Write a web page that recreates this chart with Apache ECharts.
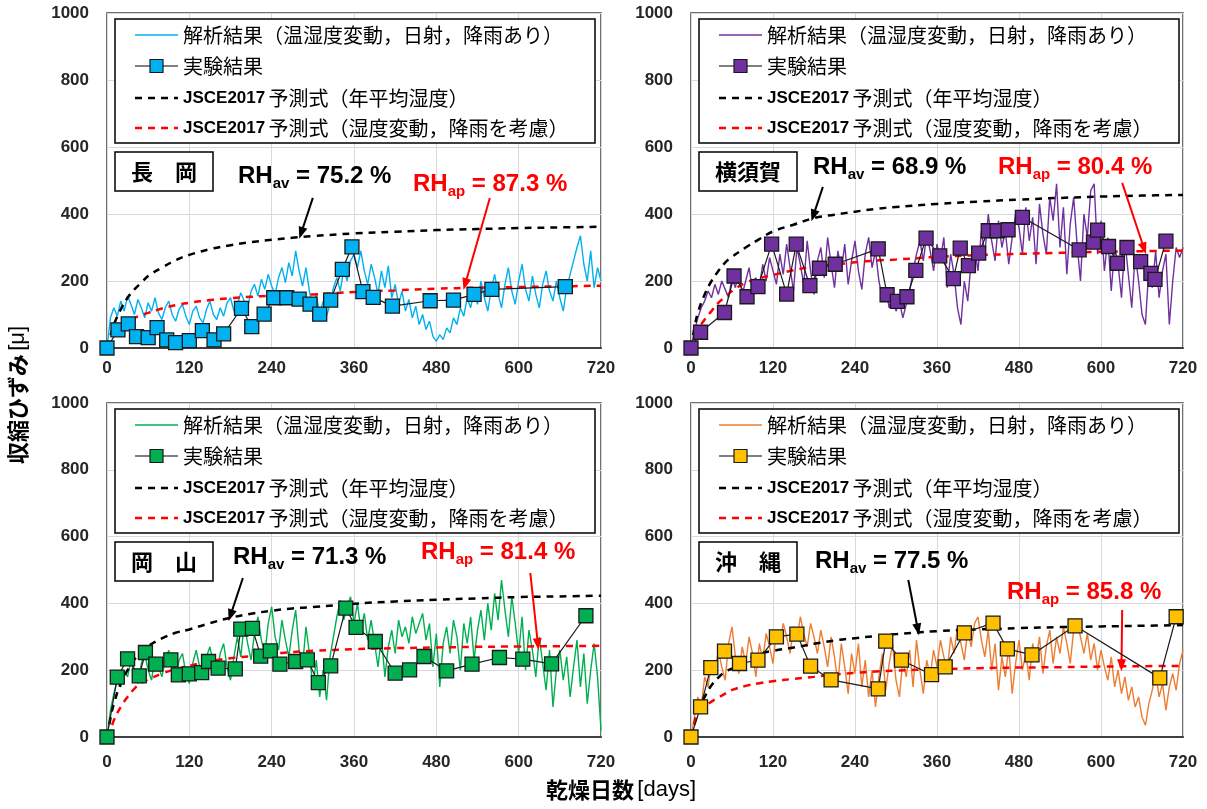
<!DOCTYPE html>
<html>
<head>
<meta charset="utf-8">
<script src="https://cdn.jsdelivr.net/npm/echarts@6/dist/echarts.min.js"></script>
<style>
  html, body { margin: 0; padding: 0; background: #fff; }
  #chart { width: 1207px; height: 809px; }
</style>
</head>
<body>
<div id="chart"></div>
<script>
// ---- Axis ticks ----
const xTicks = [0, 120, 240, 360, 480, 600, 720];
const yTicks = [0, 200, 400, 600, 800, 1000];

// ---- Analysis output (one value every 5 drying days, 0..720) ----
const ANALYSIS_STEP = 5;
const analysisNagaoka = [
  0, 90, 120, 95, 140, 110, 155, 130, 100, 145,
  120, 90, 135, 110, 150, 105, 85, 120, 140, 100,
  80, 115, 130, 95, 70, 110, 125, 90, 75, 115,
  140, 100, 85, 120, 95, 135, 150, 110, 130, 165,
  140, 120, 170, 190, 155, 205, 175, 220, 185, 160,
  210, 240, 195, 255, 215, 290, 230, 185, 240, 170,
  120, 160, 100, 140, 95, 130, 180, 210, 170, 235,
  200, 260, 280, 240, 290, 230, 190, 250, 210, 160,
  230, 180, 245, 150, 190, 130, 170, 110, 145, 90,
  125, 70, 100, 55, 80, 35, 20, 40, 25, 60,
  45, 90, 70, 120, 95, 150, 120, 170, 130, 200,
  150, 110, 175, 220, 160, 120, 190, 240, 170, 130,
  200, 250, 175, 140, 215, 160, 120, 190, 230, 170,
  140, 200, 150, 110, 180, 220, 260, 300, 335, 250,
  200, 290, 180, 240, 200
];
const analysisYokosuka = [
  0, 50, 90, 120, 140, 170, 150, 190, 160, 200,
  175, 150, 210, 180, 230, 160, 200, 240, 170, 210,
  185, 250, 200, 270, 230, 190, 280, 220, 310, 240,
  170, 300, 250, 190, 320, 230, 160, 260, 300, 210,
  330, 250, 180, 290, 230, 310, 190, 260, 320, 230,
  175, 280, 330, 240, 290, 200, 150, 180, 120, 160,
  110, 140, 90, 130, 170, 230, 280, 320, 260, 340,
  290, 230, 310, 260, 330, 180, 280, 220, 120, 70,
  200, 140, 260, 300, 230, 350, 280, 400, 320, 260,
  380, 300, 350, 250, 330, 400, 360, 280, 420, 320,
  390, 250, 430, 340, 280, 450, 380, 490, 300, 420,
  220, 370, 450, 310, 200, 400, 330, 470, 490, 280,
  380, 230, 330, 170, 300, 250, 150, 320, 220, 120,
  280, 200, 100, 70, 240, 180, 290, 150, 230, 280,
  70, 200, 300, 270, 300
];
const analysisOkayama = [
  0, 80, 130, 170, 150, 200, 180, 230, 190, 160,
  220, 250, 200, 170, 240, 210, 180, 230, 260, 200,
  170, 230, 250, 190, 160, 220, 260, 210, 180, 240,
  270, 220, 190, 250, 280, 210, 170, 240, 300, 240,
  340, 280, 230, 310, 360, 290, 250, 340, 390, 300,
  260, 350, 290, 240, 320, 380, 260, 210, 330, 250,
  150, 230, 120, 200, 110, 240, 300, 360, 410, 350,
  390, 420, 340, 400, 320, 370, 290, 350, 280, 210,
  300, 180, 270, 320, 250, 350, 300, 330, 280, 360,
  310, 340, 370, 290, 340, 210, 310, 150, 280, 330,
  250, 350, 300, 200, 340, 280, 360, 230, 320, 380,
  290, 400, 320, 430, 350, 470, 380, 300, 420, 340,
  250, 360, 200, 320, 260, 180, 300, 220, 140, 260,
  90, 200, 260, 170, 240, 120, 210, 290, 150, 250,
  100, 200, 280, 180, 20
];
const analysisOkinawa = [
  0, 60, 120, 90, 180, 150, 230, 190, 260, 210,
  170, 280, 330, 240, 190, 270, 220, 300, 250, 180,
  280, 230, 310, 270, 220, 320, 280, 340, 300, 250,
  330, 290, 360, 310, 270, 340, 300, 250, 320, 270,
  210, 300, 240, 160, 280, 210, 130, 250, 190, 280,
  150, 230, 120, 200, 90, 180, 250, 140, 220, 280,
  170, 120, 230, 180, 260, 150, 290, 200, 130, 230,
  180, 260, 210, 290, 240, 200, 300, 250, 330, 280,
  230, 320, 270, 340, 360, 290, 240, 320, 200, 280,
  140, 240, 180, 270, 130, 220, 290, 200, 250, 170,
  280, 230, 300, 190, 270, 320, 220, 300, 250, 330,
  280, 220, 320, 350, 300, 250, 310, 230, 280, 200,
  260, 210, 170, 240, 150, 200, 130, 180, 110, 150,
  90, 120, 60, 35, 100, 140, 190, 120, 160, 80,
  150, 190, 140, 220, 260
];

// ---- Measured shrinkage ----
const expDaysNagaoka = [0, 16, 31, 43, 60, 73, 87, 100, 120, 139, 156, 170, 196, 211, 229, 243, 262, 280, 296, 310, 326, 343, 357, 373, 388, 416, 471, 505, 535, 561, 668];
const expNagaoka     = [0, 54, 72, 34, 31, 61, 24, 16, 22, 52, 24, 42, 118, 64, 101, 150, 150, 146, 131, 101, 143, 235, 302, 168, 151, 125, 141, 143, 160, 175, 183];
const expDaysYokosuka = [0, 14, 49, 63, 82, 98, 118, 140, 154, 174, 188, 211, 274, 287, 302, 316, 329, 344, 364, 384, 394, 406, 421, 435, 448, 464, 485, 568, 589, 595, 611, 624, 638, 658, 673, 679, 695];
const expYokosuka     = [0, 47, 106, 215, 153, 183, 310, 161, 310, 186, 238, 250, 296, 159, 139, 153, 232, 328, 275, 207, 298, 246, 283, 350, 350, 353, 390, 293, 316, 352, 303, 253, 300, 258, 223, 205, 319];
const expDaysOkayama = [0, 15, 30, 47, 56, 71, 93, 104, 120, 138, 148, 162, 187, 195, 212, 224, 238, 252, 275, 292, 308, 326, 348, 363, 391, 420, 441, 462, 495, 532, 572, 606, 648, 698];
const expOkayama     = [0, 179, 234, 183, 253, 218, 231, 186, 189, 193, 226, 206, 204, 323, 325, 242, 258, 218, 226, 231, 163, 213, 386, 328, 286, 191, 201, 241, 198, 218, 238, 233, 219, 363];
const expDaysOkinawa = [0, 14, 29, 49, 71, 98, 125, 155, 175, 205, 274, 285, 308, 352, 372, 400, 442, 463, 499, 562, 686, 710];
const expOkinawa     = [0, 90, 208, 257, 220, 230, 300, 308, 212, 171, 144, 287, 230, 187, 210, 312, 341, 264, 246, 333, 177, 360];

// ---- JSCE2017 prediction curves ----
const jsceDays = [0, 5, 10, 20, 30, 40, 50, 60, 80, 100, 120, 150, 180, 210, 240, 270, 300, 360, 420, 480, 540, 600, 660, 720];
const jsceAvgNagaoka  = [0, 35, 70, 115, 150, 175, 195, 215, 240, 262, 278, 295, 307, 316, 323, 329, 334, 342, 347, 352, 355, 358, 360, 362];
const jsceVarNagaoka  = [0, 25, 40, 65, 80, 90, 98, 105, 118, 128, 135, 143, 149, 153, 156, 158, 160, 167, 172, 177, 180, 182, 184, 186];
const jsceAvgYokosuka = [0, 60, 105, 160, 200, 230, 255, 272, 300, 325, 348, 368, 388, 398, 407, 415, 421, 430, 437, 443, 448, 452, 455, 457];
const jsceVarYokosuka = [0, 30, 55, 85, 110, 135, 152, 170, 195, 208, 218, 232, 243, 249, 256, 261, 264, 272, 277, 281, 284, 287, 289, 291];
const jsceAvgOkayama  = [0, 55, 100, 160, 200, 232, 255, 272, 295, 312, 322, 341, 357, 369, 378, 385, 389, 399, 406, 411, 415, 419, 421, 423];
const jsceVarOkayama  = [0, 20, 50, 90, 120, 145, 162, 172, 190, 203, 213, 227, 236, 242, 249, 254, 258, 263, 266, 268, 270, 271, 272, 273];
const jsceAvgOkinawa  = [0, 40, 75, 120, 155, 178, 195, 205, 228, 248, 258, 268, 279, 289, 296, 302, 308, 317, 322, 326, 329, 331, 333, 335];
const jsceVarOkinawa  = [0, 40, 65, 90, 106, 118, 130, 141, 153, 161, 167, 174, 180, 187, 192, 196, 199, 203, 206, 208, 209, 211, 212, 213];

// ---- Site labels and humidity values ----
const siteNames = ['長　岡', '横須賀', '岡　山', '沖　縄'];
const rhAverage = ['75.2', '68.9', '71.3', '77.5'];
const rhApparent = ['87.3', '80.4', '81.4', '85.8'];

const legendTexts = [
  '解析結果（温湿度変動，日射，降雨あり）',
  '実験結果',
  '予測式（年平均湿度）',
  '予測式（湿度変動，降雨を考慮）'
];

const JP = '"Noto Sans CJK JP", "Noto Sans CJK SC", sans-serif';
const LAT = '"Liberation Sans", Arial, sans-serif';

// Panel layout and styling
const panels = [
  { left: 107, top: 13, width: 494, height: 335, lineColor: '#00B0F0', markColor: '#00B0F0',
    analysis: analysisNagaoka, expDays: expDaysNagaoka, exp: expNagaoka,
    avg: jsceAvgNagaoka, vari: jsceVarNagaoka, labelMargin: 12,
    avPos: [238, 176], apPos: [413, 184],
    arrowAv: [[300, 448], [283, 343]], arrowAp: [[558, 448], [522, 190]] },
  { left: 691, top: 13, width: 492, height: 335, lineColor: '#7030A0', markColor: '#7030A0',
    analysis: analysisYokosuka, expDays: expDaysYokosuka, exp: expYokosuka,
    avg: jsceAvgYokosuka, vari: jsceVarYokosuka, labelMargin: 12,
    avPos: [813, 167], apPos: [998, 167],
    arrowAv: [[193, 481], [179, 395]], arrowAp: [[631, 493], [663, 297]] },
  { left: 107, top: 403, width: 494, height: 334, lineColor: '#00B050', markColor: '#00B050',
    analysis: analysisOkayama, expDays: expDaysOkayama, exp: expOkayama,
    avg: jsceAvgOkayama, vari: jsceVarOkayama, labelMargin: 17,
    avPos: [233, 557], apPos: [421, 552],
    arrowAv: [[198, 476], [180, 364]], arrowAp: [[617, 491], [628, 278]] },
  { left: 691, top: 403, width: 492, height: 334, lineColor: '#ED7D31', markColor: '#FFC000',
    analysis: analysisOkinawa, expDays: expDaysOkinawa, exp: expOkinawa,
    avg: jsceAvgOkinawa, vari: jsceVarOkinawa, labelMargin: 17,
    avPos: [815, 561], apPos: [1007, 592],
    arrowAv: [[318, 470], [332, 322]], arrowAp: [[631, 380], [630, 215]] }
];

const pairs = (xs, ys) => ys.map((v, i) => [xs[i], v]);
const analysisPairs = (vals) => vals.map((v, i) => [i * ANALYSIS_STEP, v]);

const grids = [], xAxes = [], yAxes = [], series = [], graphics = [];

panels.forEach((p, i) => {
  grids.push({ left: p.left, top: p.top, width: p.width, height: p.height,
    show: true, borderColor: '#404040', borderWidth: 1.5, backgroundColor: '#fff' });

  xAxes.push({
    gridIndex: i, type: 'value', min: 0, max: 720, interval: 120,
    axisLine: { show: true, lineStyle: { color: '#404040', width: 2 } },
    axisTick: { show: false },
    axisLabel: { margin: p.labelMargin, fontSize: 17, fontWeight: 'bold', fontFamily: LAT, color: '#262626',
      formatter: v => xTicks.includes(v) ? String(v) : '' },
    splitLine: { show: true, lineStyle: { color: '#D9D9D9', width: 1 } }
  });
  yAxes.push({
    gridIndex: i, type: 'value', min: 0, max: 1000, interval: 200,
    axisLine: { show: false }, axisTick: { show: false },
    axisLabel: { margin: 18, fontSize: 17, fontWeight: 'bold', fontFamily: LAT, color: '#262626',
      formatter: v => yTicks.includes(v) ? String(v) : '' },
    splitLine: { show: true, lineStyle: { color: '#D9D9D9', width: 1 } }
  });

  // analysis result
  series.push({ type: 'line', xAxisIndex: i, yAxisIndex: i, data: analysisPairs(p.analysis),
    symbol: 'none', lineStyle: { color: p.lineColor, width: 1.4 }, z: 2 });
  // JSCE2017 prediction, annual mean humidity
  series.push({ type: 'line', xAxisIndex: i, yAxisIndex: i, data: pairs(jsceDays, p.avg),
    symbol: 'none', smooth: 0.4, lineStyle: { color: '#000', width: 2.5, type: [7, 6] }, z: 3,
    markLine: { silent: true, symbol: ['none', 'triangle'], symbolSize: [9, 12],
      lineStyle: { color: '#000', width: 2, type: 'solid' }, label: { show: false },
      data: [[{ coord: p.arrowAv[0] }, { coord: p.arrowAv[1] }]] } });
  // JSCE2017 prediction, humidity fluctuation and rain
  series.push({ type: 'line', xAxisIndex: i, yAxisIndex: i, data: pairs(jsceDays, p.vari),
    symbol: 'none', smooth: 0.4, lineStyle: { color: '#FF0000', width: 2.5, type: [7, 6] }, z: 3,
    markLine: { silent: true, symbol: ['none', 'triangle'], symbolSize: [9, 12],
      lineStyle: { color: '#FF0000', width: 2, type: 'solid' }, label: { show: false },
      data: [[{ coord: p.arrowAp[0] }, { coord: p.arrowAp[1] }]] } });
  // measured values
  series.push({ type: 'line', xAxisIndex: i, yAxisIndex: i, data: pairs(p.expDays, p.exp),
    symbol: 'rect', symbolSize: 14, clip: false,
    itemStyle: { color: p.markColor, borderColor: '#1a1a1a', borderWidth: 1.3 },
    lineStyle: { color: '#1a1a1a', width: 1.2 }, z: 5 });

  // legend box
  const bx = p.left + 8, by = p.top + 6;
  graphics.push({ type: 'rect', z: 100, shape: { x: bx, y: by, width: 480, height: 124 },
    style: { fill: '#fff', stroke: '#000', lineWidth: 1.5 } });
  const rows = [16, 47, 79, 109].map(d => by + d);
  const sx0 = p.left + 28, sx1 = p.left + 71, tx = p.left + 76;
  graphics.push({ type: 'line', z: 101, shape: { x1: sx0, y1: rows[0], x2: sx1, y2: rows[0] },
    style: { stroke: p.lineColor, lineWidth: 1.5 } });
  graphics.push({ type: 'line', z: 101, shape: { x1: sx0, y1: rows[1], x2: sx1, y2: rows[1] },
    style: { stroke: '#000', lineWidth: 1.2 } });
  graphics.push({ type: 'rect', z: 102, shape: { x: (sx0 + sx1) / 2 - 6.5, y: rows[1] - 6.5, width: 13, height: 13 },
    style: { fill: p.markColor, stroke: '#1a1a1a', lineWidth: 1.2 } });
  graphics.push({ type: 'line', z: 101, shape: { x1: sx0, y1: rows[2], x2: sx1, y2: rows[2] },
    style: { stroke: '#000', lineWidth: 2.5, lineDash: [7, 6] } });
  graphics.push({ type: 'line', z: 101, shape: { x1: sx0, y1: rows[3], x2: sx1, y2: rows[3] },
    style: { stroke: '#FF0000', lineWidth: 2.5, lineDash: [7, 6] } });
  [0, 1].forEach(r => graphics.push({ type: 'text', z: 101, x: tx, y: rows[r],
    style: { text: legendTexts[r], fontSize: 20, fontFamily: JP, fill: '#000', align: 'left', verticalAlign: 'middle' } }));
  [2, 3].forEach(r => graphics.push({ type: 'text', z: 101, x: tx, y: rows[r],
    style: { text: '{j|JSCE2017} {n|' + legendTexts[r] + '}', align: 'left', verticalAlign: 'middle',
      rich: { j: { fontSize: 17, fontWeight: 'bold', fontFamily: LAT, fill: '#000', lineHeight: 24 },
              n: { fontSize: 20, fontFamily: JP, fill: '#000', lineHeight: 24 } } } }));

  // site name box
  graphics.push({ type: 'rect', z: 100, shape: { x: p.left + 8, y: p.top + 139, width: 98, height: 39 },
    style: { fill: '#fff', stroke: '#000', lineWidth: 1.5 } });
  graphics.push({ type: 'text', z: 101, x: p.left + 57, y: p.top + 158.5,
    style: { text: siteNames[i], fontSize: 22, fontWeight: 'bold', fontFamily: JP, fill: '#000',
      align: 'center', verticalAlign: 'middle' } });

  // humidity annotations
  const rhText = (pos, sub, val, color) => ({ type: 'text', z: 101, x: pos[0], y: pos[1],
    style: { text: '{m|RH}{s|' + sub + '}{m| = ' + val + ' %}', align: 'left', verticalAlign: 'middle',
      rich: { m: { fontSize: 24, fontWeight: 'bold', fontFamily: LAT, fill: color, lineHeight: 30 },
              s: { fontSize: 15, fontWeight: 'bold', fontFamily: LAT, fill: color, lineHeight: 18, verticalAlign: 'bottom' } } } });
  graphics.push(rhText(p.avPos, 'av', rhAverage[i], '#000'));
  graphics.push(rhText(p.apPos, 'ap', rhApparent[i], '#FF0000'));
});

// axis titles
graphics.push({ type: 'text', x: 18, y: 395, rotation: Math.PI / 2,
  style: { text: '{a|収縮ひずみ} {b|[μ]}', align: 'center', verticalAlign: 'middle',
    rich: { a: { fontSize: 22, fontWeight: 'bold', fontFamily: JP, fill: '#000' },
            b: { fontSize: 22, fontFamily: LAT, fill: '#000' } } } });
graphics.push({ type: 'text', x: 621, y: 790,
  style: { text: '{a|乾燥日数} {b|[days]}', align: 'center', verticalAlign: 'middle',
    rich: { a: { fontSize: 22, fontWeight: 'bold', fontFamily: JP, fill: '#000' },
            b: { fontSize: 22, fontFamily: LAT, fill: '#000' } } } });

const chart = echarts.init(document.getElementById('chart'), null, { renderer: 'canvas' });
chart.setOption({
  animation: false,
  backgroundColor: '#fff',
  grid: grids, xAxis: xAxes, yAxis: yAxes, series: series,
  graphic: graphics
});
</script>
</body>
</html>
